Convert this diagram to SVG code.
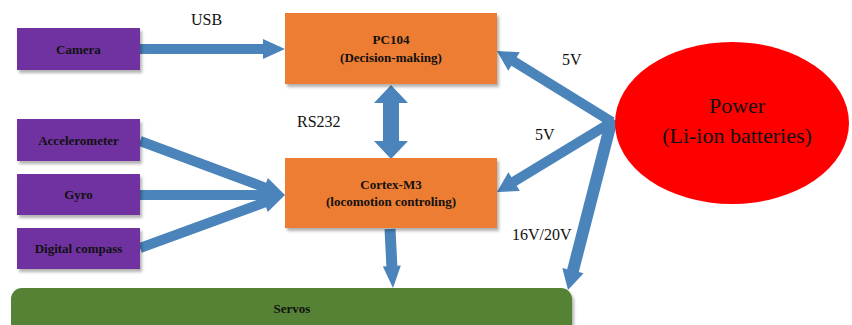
<svg xmlns="http://www.w3.org/2000/svg" width="852" height="325" viewBox="0 0 852 325" font-family="Liberation Serif, Times New Roman, DejaVu Serif, serif">
<defs>
<filter id="sh" x="-10%" y="-10%" width="130%" height="140%">
<feDropShadow dx="2" dy="3" stdDeviation="1.5" flood-color="#000" flood-opacity="0.3"/>
</filter>
</defs>
<style>
.sensor{fill:#7030A0;filter:url(#sh)}
.proc{fill:#ED7D31;filter:url(#sh)}
.lbl{font-weight:bold;font-size:13px;fill:#111;text-anchor:middle}
.edge{font-size:16px;fill:#111}
.pw{font-size:22px;fill:#111;text-anchor:middle}
.conn{fill:#4A84BB}
</style>
<rect width="852" height="325" fill="#fff"/>
<g id="connectors">
<polygon class="conn" points="140,44 263,44 263,39 285,49 263,59 263,54 140,54"/>
<polygon class="conn" points="138.26,145.69 262.64,192.01 260.89,196.69 285,195 267.87,177.95 266.13,182.63 141.75,136.31"/>
<polygon class="conn" points="140,190 263,190 263,185 285,195 263,205 263,200 140,200"/>
<polygon class="conn" points="141.72,252.70 266.06,207.25 267.77,211.94 285,195 260.91,193.16 262.62,197.85 138.28,243.30"/>
<polygon class="conn" points="391,85 408,103 399,103 399,141 408,141 391,159 374,141 383,141 383,103 374,103"/>
<polygon class="conn" points="384.51,229.28 386.39,266.31 382.89,266.49 393,288 400.87,265.57 397.37,265.75 395.49,228.72"/>
<polygon class="conn" points="614.63,117.75 516.64,57.25 519.80,52.15 497,51 508.24,70.87 511.39,65.76 609.37,126.25"/>
<polygon class="conn" points="609.40,117.73 511.48,177.33 508.36,172.20 497,192 519.80,190.99 516.68,185.87 614.60,126.27"/>
<polygon class="conn" points="606.19,117.50 567.17,269.13 562.33,267.89 568,290 583.63,273.37 578.79,272.12 617.81,120.50"/>
</g>
<text class="edge" x="191" y="25">USB</text>
<text class="edge" x="297" y="127">RS232</text>
<text class="edge" x="562" y="65">5V</text>
<text class="edge" x="535" y="140">5V</text>
<text class="edge" x="512" y="240">16V/20V</text>
<g id="camera"><rect class="sensor" x="17" y="28" width="123" height="42"/><text class="lbl" x="78.5" y="54">Camera</text></g>
<g id="accelerometer"><rect class="sensor" x="17" y="119" width="123" height="42"/><text class="lbl" x="78.5" y="145">Accelerometer</text></g>
<g id="gyro"><rect class="sensor" x="17" y="174" width="123" height="41"/><text class="lbl" x="78.5" y="199">Gyro</text></g>
<g id="compass"><rect class="sensor" x="17" y="228" width="123" height="41"/><text class="lbl" x="78.5" y="253">Digital compass</text></g>
<g id="pc104"><rect class="proc" x="285" y="13" width="212" height="71"/><text class="lbl" x="391" y="44">PC104</text><text class="lbl" x="391" y="62">(Decision-making)</text></g>
<g id="cortex"><rect class="proc" x="285" y="158" width="212" height="70"/><text class="lbl" x="391" y="189">Cortex-M3</text><text class="lbl" x="391" y="206">(locomotion controling)</text></g>
<g id="servos"><rect x="11" y="288" width="561" height="50" rx="11" fill="#548235" filter="url(#sh)"/><text class="lbl" x="292" y="313">Servos</text></g>
<g id="power"><ellipse cx="732" cy="123" rx="117" ry="81" fill="#FF0000"/><text class="pw" x="737" y="113">Power</text><text class="pw" x="737" y="143">(Li-ion batteries)</text></g>
</svg>
